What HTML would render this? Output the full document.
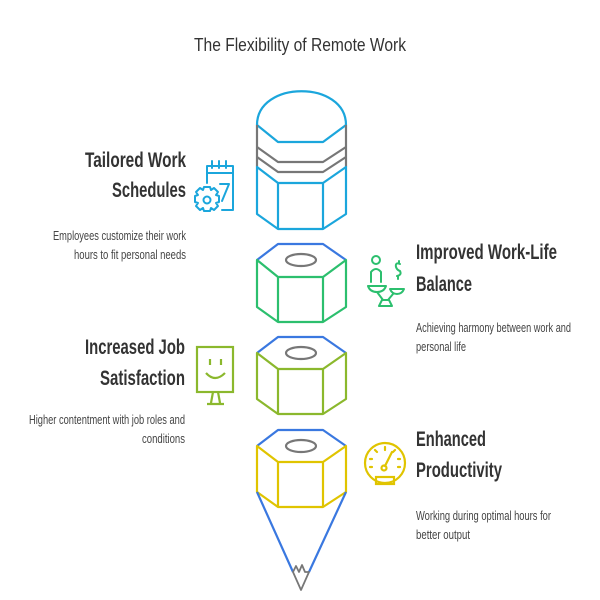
<!DOCTYPE html>
<html><head><meta charset="utf-8"><style>
html,body{margin:0;padding:0;background:#fff;}
svg{display:block}
text{font-family:"Liberation Sans Narrow","Liberation Sans",sans-serif;fill:#333}
.h{font-size:21px;font-weight:bold}
.d{font-size:12.5px;fill:#444}
</style></head><body>
<svg width="600" height="600" viewBox="0 0 600 600" xmlns="http://www.w3.org/2000/svg">
<text x="300" y="51" text-anchor="middle" style="font-size:18px;fill:#333" textLength="212" lengthAdjust="spacingAndGlyphs">The Flexibility of Remote Work</text>

<g fill="none" stroke-width="2.2" stroke-linejoin="round">
<path d="M257,125 C257,80 346,80 346,125" stroke="#1ba6dc"/>
<path d="M257,125 L278,142 L323,142 L346,125" stroke="#1ba6dc"/>
<path d="M257,125 V147 M346,125 V147" stroke="#777"/>
<path d="M257,147 L278,162 L323,162 L346,147" stroke="#777"/>
<path d="M257,157 L278,172 L323,172 L346,157" stroke="#777"/>
<path d="M257,147 V167 M346,147 V167" stroke="#777"/>
<path d="M257,167 L278,183 L323,183 L346,167 V214 L323,229 L278,229 L257,214 Z M278,183 V229 M323,183 V229" stroke="#1ba6dc"/>
<path d="M257,260 L278,244 L323,244 L346,260" stroke="#3a78e0"/>
<path d="M257,260 L278,277 L323,277 L346,260 V307 L323,322 L278,322 L257,307 Z M278,277 V322 M323,277 V322" stroke="#2cbf6e"/>
<ellipse cx="301" cy="260" rx="15" ry="6" stroke="#777"/>
<path d="M257,353 L278,337 L323,337 L346,353" stroke="#3a78e0"/>
<path d="M257,353 L278,369 L323,369 L346,353 V399 L323,414 L278,414 L257,399 Z M278,369 V414 M323,369 V414" stroke="#8bb82d"/>
<ellipse cx="301" cy="353" rx="15" ry="6" stroke="#777"/>
<path d="M257,446 L278,430 L323,430 L346,446" stroke="#3a78e0"/>
<path d="M257,446 L278,462 L323,462 L346,446 V492 L323,507 L278,507 L257,492 Z M278,462 V507 M323,462 V507" stroke="#e0c400"/>
<ellipse cx="301" cy="446" rx="15" ry="6" stroke="#777"/>
<path d="M257,492 L293,572 M346,492 L309,572" stroke="#3a78e0"/>
<path d="M293,572 L296,566 L299,572 L302,565 L305,572 L309,572 L301,590 Z" stroke="#777" stroke-width="1.8"/>
</g>

<g fill="none" stroke="#1ba6dc" stroke-width="2" stroke-linecap="round" stroke-linejoin="round">
<path d="M207,183 V166 H233 V210 H222"/>
<path d="M207,173 H233 M212,161 V168 M219,161 V168 M226,161 V168"/>
<circle cx="207" cy="200" r="3.5"/>
<path d="M204,187 h6 l1,3 l3,-2 l4,4 l-2,3 l3,1 v6 l-3,1 l2,3 l-4,4 l-3,-2 l-1,3 h-6 l-1,-3 l-3,2 l-4,-4 l2,-3 l-3,-1 v-6 l3,-1 l-2,-3 l4,-4 l3,2 Z"/>
<path d="M220,184 H229 L222,201"/>
</g>
<g fill="none" stroke="#2cbf6e" stroke-width="2" stroke-linejoin="round" stroke-linecap="round">
<circle cx="376" cy="260" r="4"/>
<path d="M371,282 V272 Q376,266 381,272 V282"/>
<path d="M368,286 H386 Q384,292 377,292 Q370,292 368,286 Z"/>
<path d="M390,289 H404 Q402,294 397,294 Q392,294 390,289 Z"/>
<path d="M377,292 L383,300 L388,300 L393,294 M382,300 L379,306 H392 L389,300"/>
<path d="M400,264 Q395,262 396,267 Q397,270 400,271 Q402,275 397,276 M399,261 V263 M398,276 V279"/>
</g>
<g fill="none" stroke="#8bb82d" stroke-width="2.2">
<rect x="197" y="347" width="36" height="45"/>
<path d="M210,359 V365 M221,359 V365 M206,373 Q215,383 225,373"/>
<path d="M213,392 L211,403 M218,392 L220,403 M207,404 H224"/>
</g>
<g fill="none" stroke="#e0c400" stroke-width="2.2" stroke-linecap="round">
<circle cx="385" cy="463" r="20"/>
<rect x="376" y="477" width="18" height="7"/>
<circle cx="384" cy="468" r="2.5"/>
<path d="M385,466 L392,452 M385,447 V450 M375,450 L377,452 M395,450 L393,452 M370,459 H372 M398,459 H400 M370,467 H372 M398,467 H400"/>
</g>

<text class="h" x="186" y="167" text-anchor="end" textLength="101" lengthAdjust="spacingAndGlyphs">Tailored Work</text>
<text class="h" x="186" y="197" text-anchor="end" textLength="74" lengthAdjust="spacingAndGlyphs">Schedules</text>
<text class="d" x="186" y="240" text-anchor="end" textLength="133" lengthAdjust="spacingAndGlyphs">Employees customize their work</text>
<text class="d" x="186" y="259" text-anchor="end" textLength="112" lengthAdjust="spacingAndGlyphs">hours to fit personal needs</text>

<text class="h" x="416" y="259" textLength="141" lengthAdjust="spacingAndGlyphs">Improved Work-Life</text>
<text class="h" x="416" y="291" textLength="56" lengthAdjust="spacingAndGlyphs">Balance</text>
<text class="d" x="416" y="332" textLength="155" lengthAdjust="spacingAndGlyphs">Achieving harmony between work and</text>
<text class="d" x="416" y="351" textLength="50" lengthAdjust="spacingAndGlyphs">personal life</text>

<text class="h" x="185" y="354" text-anchor="end" textLength="100" lengthAdjust="spacingAndGlyphs">Increased Job</text>
<text class="h" x="185" y="385" text-anchor="end" textLength="85" lengthAdjust="spacingAndGlyphs">Satisfaction</text>
<text class="d" x="185" y="424" text-anchor="end" textLength="156" lengthAdjust="spacingAndGlyphs">Higher contentment with job roles and</text>
<text class="d" x="185" y="443" text-anchor="end" textLength="43" lengthAdjust="spacingAndGlyphs">conditions</text>

<text class="h" x="416" y="446" textLength="70" lengthAdjust="spacingAndGlyphs">Enhanced</text>
<text class="h" x="416" y="477" textLength="86" lengthAdjust="spacingAndGlyphs">Productivity</text>
<text class="d" x="416" y="520" textLength="135" lengthAdjust="spacingAndGlyphs">Working during optimal hours for</text>
<text class="d" x="416" y="539" textLength="54" lengthAdjust="spacingAndGlyphs">better output</text>
</svg>
</body></html>
